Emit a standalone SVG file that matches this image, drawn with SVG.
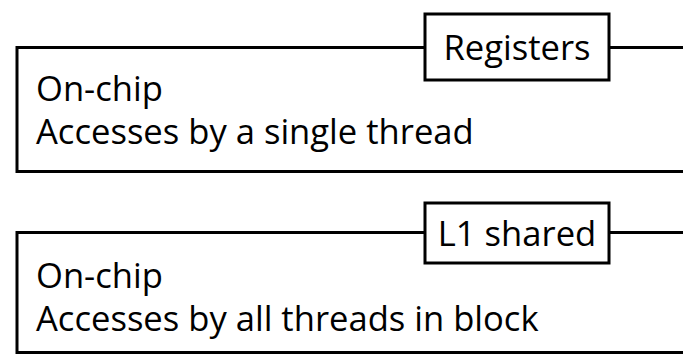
<svg xmlns="http://www.w3.org/2000/svg" width="683" height="357" viewBox="0 0 683 357">
<style>
.frame{fill:none;stroke:#000;stroke-width:3}
.lbl{fill:#fff;stroke:#000;stroke-width:3}
text{font-family:"Open Sans","Noto Sans",sans-serif;font-size:34.6px;fill:#000}
</style>
<rect width="683" height="357" fill="#fff"/>
<g id="registers-region">
<rect class="frame" x="17" y="47.5" width="700" height="124"/>
<text x="36" y="101">On-chip</text>
<text x="36" y="144">Accesses by a single thread</text>
</g>
<g id="registers">
<rect class="lbl" x="425" y="14" width="184" height="66"/>
<text x="517" y="60" text-anchor="middle">Registers</text>
</g>
<g id="l1-region">
<rect class="frame" x="17" y="232.5" width="700" height="120"/>
<text x="36" y="288">On-chip</text>
<text x="36" y="331">Accesses by all threads in block</text>
</g>
<g id="l1-shared">
<rect class="lbl" x="425" y="203" width="184" height="60"/>
<text x="517" y="246" text-anchor="middle">L1 shared</text>
</g>
<g id="connectors"></g>
</svg>
